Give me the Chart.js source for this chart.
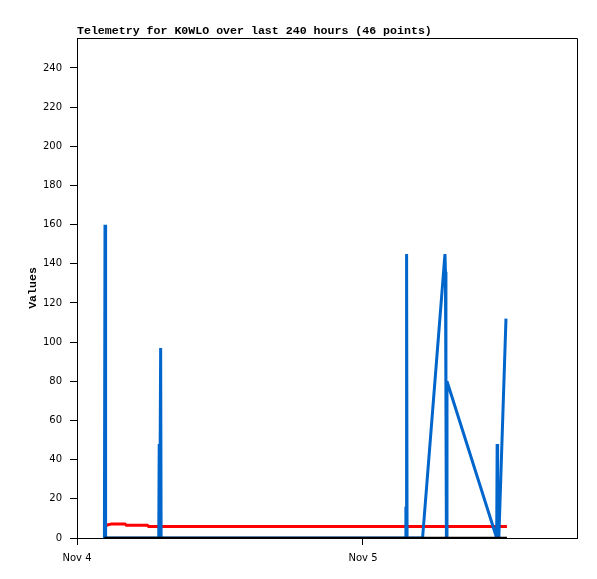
<!DOCTYPE html>
<html>
<head>
<meta charset="utf-8">
<script src="https://cdn.jsdelivr.net/npm/chart.js@4/dist/chart.umd.min.js"></script>
<style>
html,body{margin:0;padding:0;background:#fff;}
#wrap{width:597px;height:579px;position:relative;}
</style>
</head>
<body>
<div id="wrap"><canvas id="c" width="597" height="579"></canvas></div>
<script>
// ---- data (hours since Nov 4 00:00) ----
const chartTitle = "Telemetry for K0WLO over last 240 hours (46 points)";
const yAxisTitle = "Values";
const xTickValues = [0, 24];
const xTickLabels = ["Nov 4", "Nov 5"];
const yTickValues = [0, 20, 40, 60, 80, 100, 120, 140, 160, 180, 200, 220, 240];

const blueHours  = [2.30, 2.35, 2.40, 6.86, 6.90, 6.94, 7.02, 7.06, 27.55, 27.60, 27.63, 27.66, 27.70, 29.00, 30.88, 30.92, 30.96, 31.00, 31.05, 35.22, 35.26, 35.30, 35.34, 35.40, 36.00];
const blueValues = [0,    160,  0,    0,    48,   0,    97,   0,    0,     16,    0,     145,   0,     0,     145,   136,   72,    0,     80,    0,     48,    0,     24,    0,     112];

const redHours  = [2.35, 2.52, 2.85, 4.08, 4.09, 5.95, 5.96, 36.08];
const redValues = [5.8,  6.6,  7.1,  7.1,  6.5,  6.5,  5.9,  5.9];

const blackHours  = [2.30, 36.08];
const blackValues = [0, 0];

function pts(xs, ys){ return xs.map((x,i)=>({x:x, y:ys[i]})); }

const decor = {
  id: 'decor',
  afterDraw(chart){
    const ctx = chart.ctx, a = chart.chartArea;
    ctx.save();
    ctx.strokeStyle = '#000';
    ctx.lineWidth = 1;
    ctx.beginPath();
    ctx.moveTo(a.left, a.top + 0.5);
    ctx.lineTo(a.right + 0.5, a.top + 0.5);
    ctx.lineTo(a.right + 0.5, a.bottom);
    ctx.stroke();
    ctx.fillStyle = '#000';
    ctx.font = 'bold 11.6px "Liberation Mono", "DejaVu Sans Mono", monospace';
    ctx.textAlign = 'left';
    ctx.textBaseline = 'alphabetic';
    ctx.fillText(chartTitle, 77, 34);
    ctx.translate(33, (a.top + a.bottom) / 2);
    ctx.rotate(-Math.PI / 2);
    ctx.textAlign = 'center';
    ctx.textBaseline = 'middle';
    ctx.fillText(yAxisTitle, 0, 0);
    ctx.restore();
  }
};

new Chart(document.getElementById('c'), {
  type: 'line',
  data: {
    datasets: [
      { data: pts(blackHours, blackValues), borderColor: '#000000', borderWidth: 2.5, pointRadius: 0, order: 0, tension: 0 },
      { data: pts(blueHours, blueValues), borderColor: '#0066cc', borderWidth: 3, pointRadius: 0, order: 1, tension: 0, borderJoinStyle: 'bevel' },
      { data: pts(redHours, redValues), borderColor: '#ff0000', borderWidth: 3, pointRadius: 0, order: 2, tension: 0, borderJoinStyle: 'bevel' }
    ]
  },
  options: {
    responsive: false,
    animation: false,
    layout: { padding: { top: 38, right: 20, left: 0, bottom: 0 } },
    plugins: { legend: { display: false }, tooltip: { enabled: false }, title: { display: false } },
    scales: {
      x: {
        type: 'linear', min: 0, max: 41.96,
        afterBuildTicks(s){ s.ticks = xTickValues.map(v => ({value: v})); },
        afterFit(s){ s.height = 41; },
        ticks: {
          autoSkip: false, maxRotation: 0, padding: 7, color: '#000',
          font: { family: '"DejaVu Sans"', size: 10 },
          callback(v){ const i = xTickValues.indexOf(v); return i >= 0 ? xTickLabels[i] : ''; }
        },
        grid: { drawOnChartArea: false, color: '#000', tickLength: 7, lineWidth: 1 },
        border: { color: '#000', width: 1 }
      },
      y: {
        type: 'linear', min: 0, max: 255.3,
        afterBuildTicks(s){ s.ticks = yTickValues.map(v => ({value: v})); },
        afterFit(s){ s.width = 77; },
        ticks: {
          autoSkip: false, padding: 8, color: '#000',
          font: { family: '"DejaVu Sans"', size: 10 },
          callback(v){ return String(v); }
        },
        grid: { drawOnChartArea: false, color: '#000', tickLength: 7, lineWidth: 1 },
        border: { color: '#000', width: 1 }
      }
    }
  },
  plugins: [decor]
});
</script>
</body>
</html>
